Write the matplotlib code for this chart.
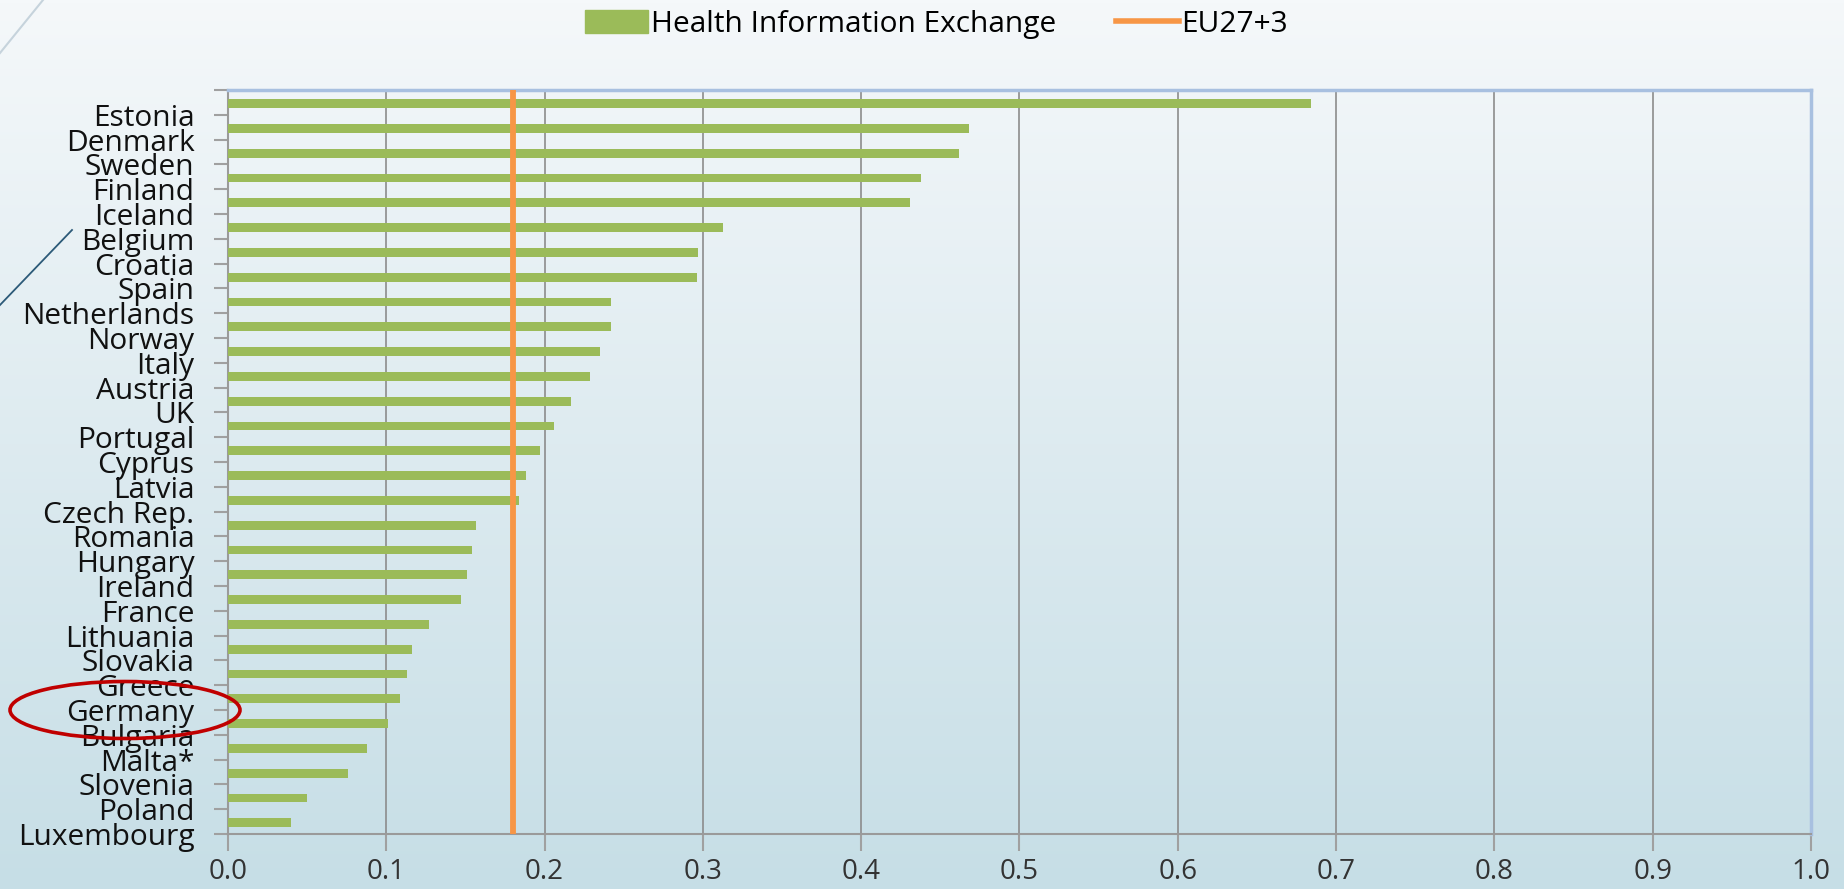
import matplotlib
matplotlib.use('Agg')
import matplotlib.pyplot as plt
import numpy as np
from matplotlib.patches import Ellipse, Patch
from matplotlib.lines import Line2D

# data
countries = ["Estonia", "Denmark", "Sweden", "Finland", "Iceland", "Belgium", "Croatia",
             "Spain", "Netherlands", "Norway", "Italy", "Austria", "UK", "Portugal",
             "Cyprus", "Latvia", "Czech Rep.", "Romania", "Hungary", "Ireland", "France",
             "Lithuania", "Slovakia", "Greece", "Germany", "Bulgaria", "Malta*",
             "Slovenia", "Poland", "Luxembourg"]
hie = [0.684, 0.468, 0.462, 0.438, 0.431, 0.313, 0.297, 0.296, 0.242, 0.242, 0.235,
       0.229, 0.217, 0.206, 0.197, 0.188, 0.184, 0.157, 0.154, 0.151, 0.147, 0.127,
       0.116, 0.113, 0.109, 0.101, 0.088, 0.076, 0.050, 0.040]
eu_avg = 0.18
xticks = [0.0, 0.1, 0.2, 0.3, 0.4, 0.5, 0.6, 0.7, 0.8, 0.9, 1.0]

plt.rcParams['font.family'] = ['Open Sans', 'DejaVu Sans']

fig = plt.figure(figsize=(18.44, 8.89), dpi=100)

# background gradient (light at top, pale blue at bottom)
bg = fig.add_axes([0, 0, 1, 1], zorder=-5)
top_c = np.array([245, 248, 250]) / 255
bot_c = np.array([198, 222, 230]) / 255
t = np.linspace(0, 1, 256)[:, None]
grad = top_c[None, :] * (1 - t) + bot_c[None, :] * t
bg.imshow(grad[:, None, :], aspect='auto', extent=[0, 1, 0, 1], origin='upper')
bg.axis('off')

# decorative slanted lines
fig.add_artist(Line2D([0, 43 / 1844], [1 - 53 / 889, 1], transform=fig.transFigure,
                      color='#c6d3dc', lw=1.5))
fig.add_artist(Line2D([0, 72 / 1844], [1 - 305 / 889, 1 - 230 / 889],
                      transform=fig.transFigure, color='#2c5a78', lw=1.3))

ax = fig.add_axes([0.1236, 0.0619, 0.9821 - 0.1236, 0.8988 - 0.0619])
ax.patch.set_alpha(0)

y = np.arange(len(countries))
ax.barh(y + 0.05, hie, height=0.36, color='#9bbb59', zorder=3)
ax.axvline(eu_avg, color='#f79646', lw=4.2, zorder=4)

ax.set_xlim(0, 1.0)
ax.set_ylim(len(countries) - 0.5, -0.5)
ax.set_xticks(xticks)
ax.set_xticklabels([f"{v:.1f}" for v in xticks], fontsize=20, color='#333333')
ax.set_yticks(y + 0.5)
ax.set_yticklabels(countries, fontsize=21.5, color='#111111')
ax.set_yticks([-0.5], minor=True)
ax.tick_params(axis='y', which='both', length=10, color='#a0a0a0', width=1.5, pad=14)
ax.tick_params(axis='x', length=12, color='#a0a0a0', width=1.5, pad=5)

ax.grid(axis='x', color='#8c8c8c', lw=1.2, zorder=1)
ax.set_axisbelow(True)
for s in ['left', 'bottom']:
    ax.spines[s].set_color('#9a9a9a')
    ax.spines[s].set_linewidth(1.5)
for s in ['top', 'right']:
    ax.spines[s].set_color('#a8c0e0')
    ax.spines[s].set_linewidth(2.5)

handles = [Patch(color='#9bbb59', label='Health Information Exchange'),
           Line2D([], [], color='#f79646', lw=4, label='EU27+3')]
fig.legend(handles=handles, loc='center', bbox_to_anchor=(0.508, 0.973), ncol=2,
           frameon=False, fontsize=21.5, handlelength=2.1, handleheight=0.8,
           columnspacing=2.0, handletextpad=0.1)

# red ellipse around Germany
fig.add_artist(Ellipse((125 / 1844, 1 - 710 / 889), 230 / 1844, 57 / 889,
                       transform=fig.transFigure, fill=False, edgecolor='#c00000',
                       lw=2.6, zorder=10))

fig.savefig('out.png', dpi=100)
plt.close('all')
